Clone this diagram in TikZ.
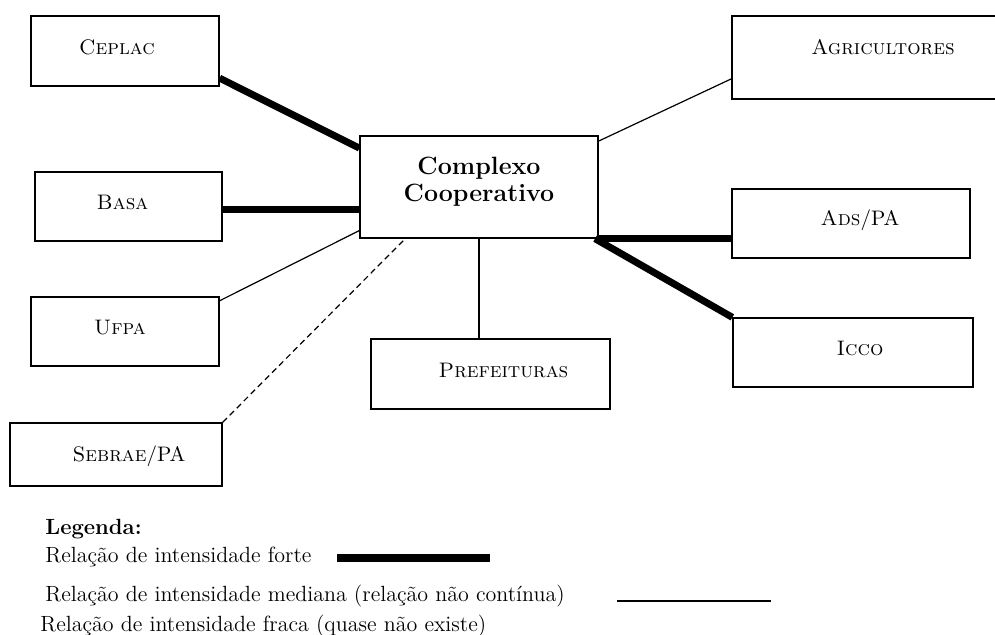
\documentclass[tikz,border=0pt]{standalone}
\usepackage{amsmath}
\usepackage{tikz}
\usetikzlibrary{arrows,positioning}
\tikzset{
    %Define style for boxes
    orgrect/.style={
           rectangle,
           draw=black, line width=0.65pt,
           minimum width=94pt,
           minimum height=34.5pt,
           inner sep=0pt},
    orglabel/.style={
           anchor=base,
           inner sep=0pt,
           font=\fontsize{10.5}{13}\selectfont},
    centralrect/.style={
           rectangle,
           draw=black, line width=0.65pt,
           minimum width=119pt,
           minimum height=51pt,
           font=\fontsize{12.5}{13.5}\selectfont\bfseries,
           align=center},
    % Define line styles
    forte/.style={line width=3.5pt},
    mediana/.style={line width=0.6pt},
    fraca/.style={line width=0.6pt, dash pattern=on 3pt off 2pt},
    legtext/.style={
           anchor=base west,
           inner sep=0pt,
           font=\fontsize{11}{12}\selectfont}
}
\begin{document}
\begin{tikzpicture}[x=0.5pt,y=-0.5pt]
\useasboundingbox (0,0) rectangle (995,634);
% boxes
\node[orgrect, minimum width=94pt, minimum height=35pt,
      label={[orglabel, xshift=-4pt, yshift=2pt]center:\textsc{Ceplac}}] (ceplac) at (125,51) {};
\node[orgrect, minimum width=93.5pt,
      label={[orglabel, xshift=-3pt, yshift=2pt]center:\textsc{Basa}}] (basa) at (128.5,206.5) {};
\node[orgrect,
      label={[orglabel, xshift=-2.5pt, yshift=2pt]center:\textsc{Ufpa}}] (ufpa) at (125,331.5) {};
\node[orgrect, minimum width=106pt, minimum height=31.5pt,
      label={[orglabel, xshift=6.5pt, yshift=-1pt]center:\textsc{Sebrae}/PA}] (sebrae) at (116,454.5) {};
\node[centralrect] (cc) at (479,187) {Complexo\\Cooperativo\vphantom{p}\\[-6pt]};
\node[orgrect, minimum width=134pt, minimum height=41.5pt,
      label={[orglabel, xshift=8.5pt, yshift=5pt]center:\textsc{Agricultores}}] (agri) at (866,57.5) {};
\node[orgrect, minimum width=119pt,
      label={[orglabel, xshift=4.5pt, yshift=1.75pt]center:\textsc{Ads}/PA}] (ads) at (851,223.5) {};
\node[orgrect, minimum width=120pt,
      label={[orglabel, xshift=3.5pt, yshift=2.25pt]center:\textsc{Icco}}] (icco) at (853,352.5) {};
\node[orgrect, minimum width=119.5pt, minimum height=35pt,
      label={[orglabel, xshift=6.5pt, yshift=2pt]center:\textsc{Prefeituras}}] (pref) at (490.5,374) {};
% relations
\draw[forte] (ceplac.-16.8) -- (cc.162.3);
\draw[forte] (basa.-2.8) -- (basa.-2.8 -| cc.west);
\draw[mediana] (ufpa.18.3) -- (cc.200.7);
\draw[fraca] (sebrae.north east) -- (cc.215.7);
\draw[mediana] (cc.south) -- (cc.south |- pref.north);
\draw[mediana] (cc.21) -- (agri.189.5);
\draw[forte] (cc.south east) -- (cc.south east -| ads.west);
\draw[forte] (cc.-24.7) -- (icco.north west);
% legend
\node[legtext, font=\fontsize{11}{12}\selectfont\bfseries] (leg) at (45,534) {Legenda:};
\node[legtext] (lforte) at (45,562) {Relação de intensidade forte};
\node[legtext] (lmed) at (45,601) {Relação de intensidade mediana (relação não contínua)};
\node[legtext] (lfraca) at (40,631) {Relação de intensidade fraca (quase não existe)};
\draw[line width=4pt] (337,558) -- (490,558);
\draw[mediana] (617,601) -- (771,601);
\end{tikzpicture}
\end{document}
